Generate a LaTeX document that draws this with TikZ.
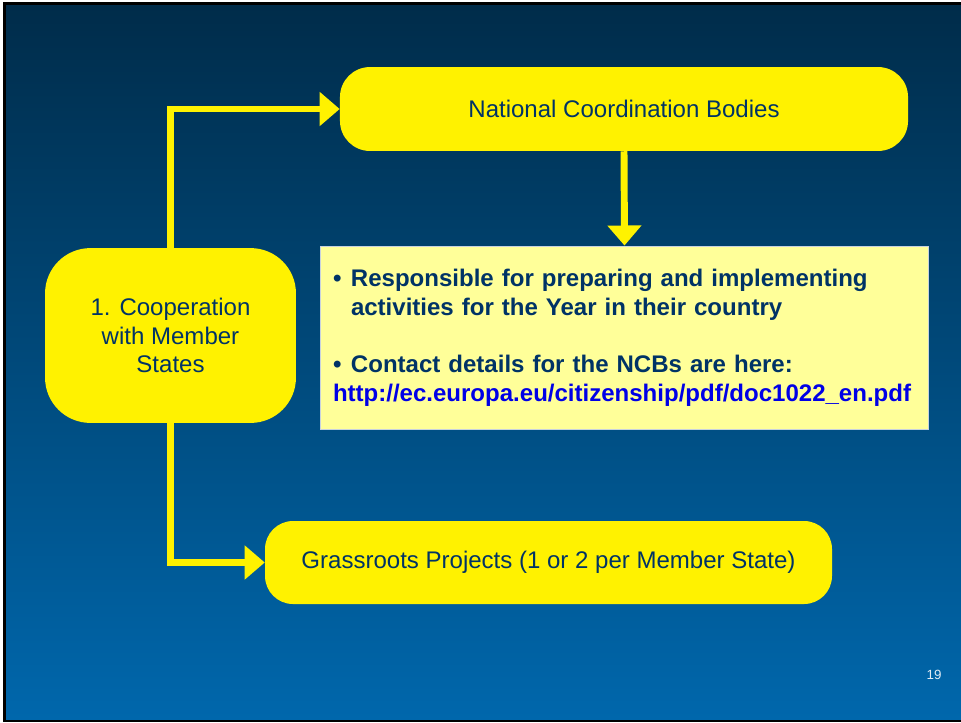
\documentclass[tikz,border=0pt]{standalone}
\usepackage{fontspec}
\setmainfont{Liberation Sans}
\usepackage{xcolor}
\usetikzlibrary{arrows.meta}
\definecolor{slidetop}{RGB}{0,44,74}
\definecolor{slidebot}{RGB}{0,103,172}
\definecolor{boxtext}{RGB}{0,51,102}
\definecolor{infofill}{RGB}{255,255,153}
\definecolor{infoline}{RGB}{200,210,222}
\definecolor{linkblue}{RGB}{0,0,230}
\definecolor{numtext}{RGB}{225,235,245}
\tikzset{
        bubble/.style={fill=yellow, text=boxtext, align=center, inner sep=0pt, font=\fontsize{18}{21.5}\selectfont},
        conn/.style={yellow, line width=5.2pt, -{Triangle[length=15pt, width=24.7pt]}}
}

\begin{document}
\begin{tikzpicture}[x=0.74922pt, y=-0.74922pt]
        \useasboundingbox (0, 0) rectangle (961, 722);
        \fill[white] (0, 0) rectangle (961, 722);
        \fill[black] (3, 2) rectangle (961, 722);
        \shade[top color=slidetop, bottom color=slidebot] (6, 5) rectangle (961, 719);
        \node[bubble, minimum width=188pt, minimum height=131pt, rounded corners=34pt] (coop) at (170.5, 335.5) {1. Cooperation\\with Member\\States};
        \node[bubble, minimum width=425.6pt, minimum height=62.9pt, rounded corners=22.5pt] (ncb) at (624, 109) {National Coordination Bodies};
        \node[bubble, minimum width=424.8pt, minimum height=62.2pt, rounded corners=21pt] (grass) at (548.5, 562.5) {Grassroots Projects (1 or 2 per Member State)};
        \node[fill=infofill, draw=infoline, line width=0.75pt, text=boxtext, align=left, text width=436.8pt, inner xsep=9pt, minimum width=454.8pt, minimum height=137.1pt, font=\bfseries\fontsize{18}{21.5}\selectfont] (info) at (624.5, 337.5)
                {\makebox[13.5pt][l]{•}Responsible for preparing and implementing\\
                \hspace*{13.5pt}activities for the Year in their country\\[21.5pt]
                \makebox[13.5pt][l]{•}Contact details for the NCBs are here:\\
                {\color{linkblue}http://ec.europa.eu/citizenship/pdf/doc1022\_en.pdf}};
        \node[text=numtext, font=\fontsize{10}{12}\selectfont] (pagenum) at (934, 675) {19};
        \draw[conn] (coop.north) |- (ncb.west);
        \draw[conn] (coop.south) |- (grass.west);
        \draw[conn] (ncb.south) -- (info.north);
\end{tikzpicture}
\end{document}
